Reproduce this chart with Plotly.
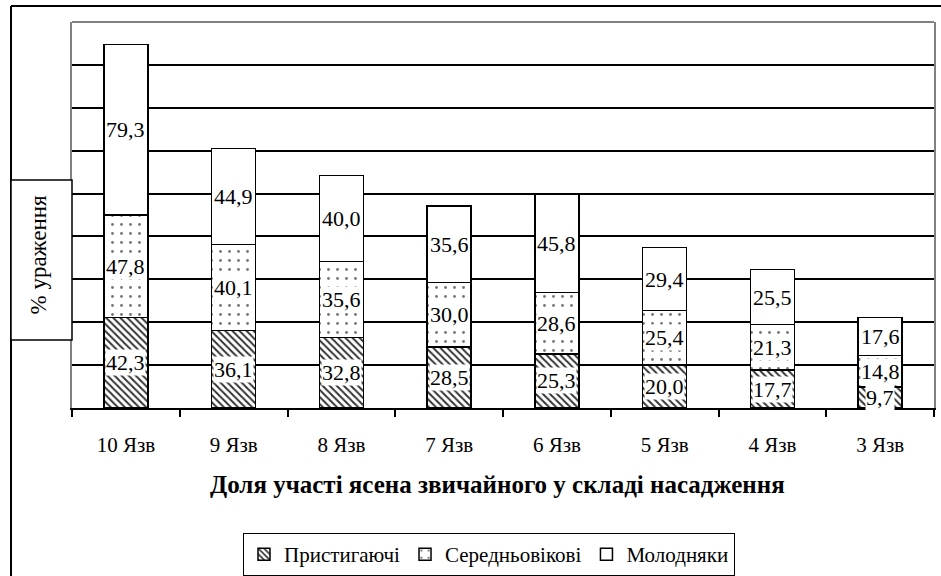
import numpy as np
import plotly.graph_objects as go

# Категорії та значення (% ураження) для трьох вікових груп
categories = ["10 Язв", "9 Язв", "8 Язв", "7 Язв", "6 Язв", "5 Язв", "4 Язв", "3 Язв"]
prystyhaiuchi = [42.3, 36.1, 32.8, 28.5, 25.3, 20.0, 17.7, 9.7]
serednovikovi = [47.8, 40.1, 35.6, 30.0, 28.6, 25.4, 21.3, 14.8]
molodniaky = [79.3, 44.9, 40.0, 35.6, 45.8, 29.4, 25.5, 17.6]
series_names = ["Пристигаючі", "Середньовікові", "Молодняки"]

FONT = "Times New Roman, Liberation Serif, DejaVu Serif, serif"

W, H = 941, 576
L, R, T, B = 72, 7, 22, 168
PW, PH = W - L - R, H - T - B


def px_x(x):
    return (x - L) / PW


def px_y(y):
    return (H - B - y) / PH


series = [prystyhaiuchi, serednovikovi, molodniaky]
patterns = [
    dict(shape="\\", size=5, solidity=0.4, fgcolor="#333333", bgcolor="white", fillmode="replace"),
    dict(shape=".", size=9, solidity=0.08, fgcolor="#777777", bgcolor="white", fillmode="replace"),
    dict(shape="", bgcolor="white", fgcolor="white"),
]

fig = go.Figure()
for name, vals, pat in zip(series_names, series, patterns):
    fig.add_trace(go.Bar(
        x=categories, y=vals, name=name, width=0.41,
        marker=dict(color="white", pattern=pat, line=dict(color="black", width=1.5)),
    ))

# Підписи значень у центрі кожного сегмента
arr = np.array(series)
tops = np.cumsum(arr, axis=0)
mids = tops - arr / 2
annotations = []
for i in range(arr.shape[0]):
    for j, cat in enumerate(categories):
        annotations.append(dict(
            x=cat, y=mids[i, j], xref="x", yref="y",
            text=f"{arr[i, j]:.1f}".replace(".", ","),
            showarrow=False, bgcolor="white", borderpad=0,
            font=dict(family=FONT, size=22, color="black"),
        ))

# Назва осі X
annotations.append(dict(
    x=0.494, y=px_y(484), xref="paper", yref="paper",
    text="<b>Доля участі ясена звичайного у складі насадження</b>",
    showarrow=False, yanchor="middle",
    font=dict(family=FONT, size=25, color="black"),
))
# Назва осі Y у рамці
annotations.append(dict(
    x=px_x(24), y=px_y(255), xref="paper", yref="paper",
    text="% ураження", textangle=-90, showarrow=False,
    font=dict(family=FONT, size=23, color="black"),
))

shapes = [
    # зовнішня рамка діаграми
    dict(type="line", xref="paper", yref="paper", x0=px_x(11), x1=px_x(960), y0=px_y(6), y1=px_y(6),
         line=dict(color="black", width=2)),
    dict(type="line", xref="paper", yref="paper", x0=px_x(11), x1=px_x(11), y0=px_y(6), y1=px_y(600),
         line=dict(color="black", width=2)),
    # верхня межа області побудови
    dict(type="line", xref="paper", yref="paper", x0=0, x1=1, y0=1, y1=1,
         line=dict(color="#808080", width=2)),
    # рамка підпису осі Y
    dict(type="rect", xref="paper", yref="paper", x0=px_x(11), x1=0, y0=px_y(340), y1=px_y(180),
         fillcolor="white", line=dict(color="black", width=1.5)),
]

fig.update_layout(
    width=W, height=H, autosize=False,
    margin=dict(l=L, r=R, t=T, b=B, autoexpand=False),
    barmode="stack",
    paper_bgcolor="white", plot_bgcolor="white",
    font=dict(family=FONT, color="black"),
    showlegend=True,
    legend=dict(
        orientation="h", traceorder="normal",
        x=px_x(489), xanchor="center", y=px_y(533), yanchor="top",
        bordercolor="black", borderwidth=1, bgcolor="white",
        font=dict(family=FONT, size=21, color="black"),
        itemwidth=30, tracegroupgap=0,
    ),
    annotations=annotations,
    shapes=shapes,
)
fig.update_xaxes(
    showline=True, linecolor="black", linewidth=1.5,
    ticks="outside", tickson="boundaries", ticklen=7, tickcolor="black", tickwidth=1.5,
    tickfont=dict(family=FONT, size=21, color="black"),
    ticklabelstandoff=17, showgrid=False,
)
fig.update_yaxes(
    range=[0, 180], dtick=20, showticklabels=False, ticks="",
    showgrid=True, gridcolor="black", gridwidth=1.5,
    showline=True, linecolor="#808080", linewidth=2, mirror=True,
    zeroline=False,
)

fig.write_html("out.html")
